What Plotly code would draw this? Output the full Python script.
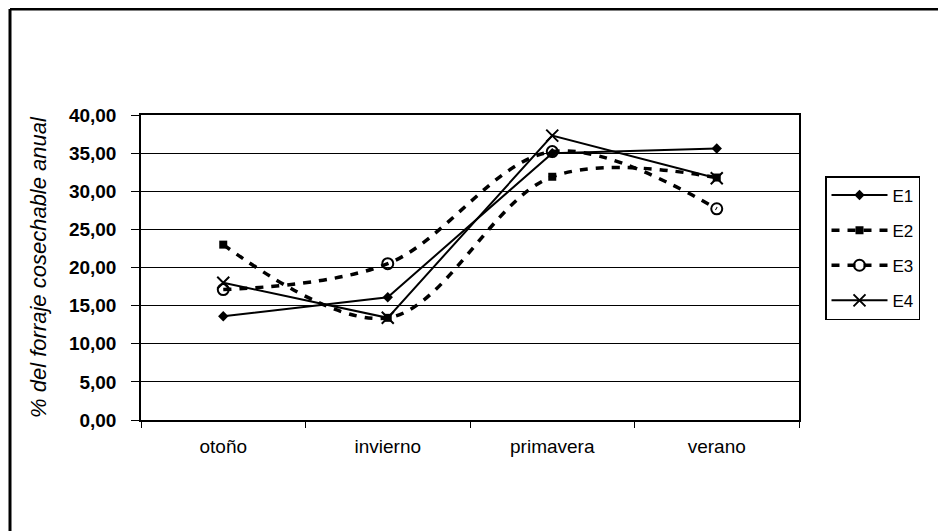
import plotly.graph_objects as go

categories = ["otoño", "invierno", "primavera", "verano"]
e1 = [13.6, 16.1, 35.0, 35.6]
e2 = [23.0, 13.4, 31.9, 31.8]
e3 = [17.1, 20.5, 35.2, 27.7]
e4 = [18.0, 13.4, 37.3, 31.7]
y_ticks = [0, 5, 10, 15, 20, 25, 30, 35, 40]

FONT = "Liberation Sans, Arial, sans-serif"

fig = go.Figure()
fig.add_trace(go.Scatter(x=categories, y=e1, name="E1", mode="lines+markers",
                         line=dict(color="black", width=2),
                         marker=dict(symbol="diamond", size=8, color="black"),
                         legendgroup="1"))
fig.add_trace(go.Scatter(x=categories, y=e2, name="E2", mode="lines+markers",
                         line=dict(color="black", width=3.5, dash="8px,8px", shape="spline"),
                         marker=dict(symbol="square", size=8, color="black"),
                         legendgroup="2"))
fig.add_trace(go.Scatter(x=categories, y=e3, name="E3", mode="lines+markers",
                         line=dict(color="black", width=3.5, dash="8px,8px", shape="spline"),
                         marker=dict(symbol="circle-open", size=11, color="black",
                                     line=dict(width=2, color="black")),
                         legendgroup="3"))
fig.add_trace(go.Scatter(x=categories, y=e4, name="E4", mode="lines+markers",
                         line=dict(color="black", width=2),
                         marker=dict(symbol="x-thin-open", size=12, color="black",
                                     line=dict(width=2, color="black")),
                         legendgroup="4"))

# page offset (browser body margin)
OFF = 8
W, H = 946 - OFF, 531 - OFF
L = 141 - OFF
T = 115 - OFF
R = W - (799 - OFF)
B = H - (420 - OFF)
pw = W - L - R
ph = H - T - B

def px_x(v):
    return (v - OFF - L) / pw

def px_y(v):
    return (H - B - (v - OFF)) / ph

fig.update_layout(
    width=W, height=H,
    margin=dict(l=L, r=R, t=T, b=B),
    paper_bgcolor="white", plot_bgcolor="white",
    separators=",.",
    font=dict(family=FONT, color="black"),
    showlegend=True,
    legend=dict(x=px_x(825), y=px_y(176), xanchor="left", yanchor="top",
                bordercolor="black", borderwidth=1.5, bgcolor="white",
                font=dict(size=17, family=FONT, color="black"),
                itemwidth=56, tracegroupgap=10, traceorder="grouped"),
    xaxis=dict(type="category", range=[-0.5, 3.5], showline=True, linecolor="black",
               linewidth=1.5, mirror=True, ticks="outside", tickson="boundaries",
               ticklen=6, tickcolor="black", showgrid=False,
               tickfont=dict(size=19, family=FONT, color="black"),
               ticklabelstandoff=8),
    yaxis=dict(range=[0, 40], tickvals=y_ticks, tickformat=".2f",
               showline=True, linecolor="black", linewidth=1.5, mirror=True,
               ticks="outside", ticklen=8, tickcolor="black",
               showgrid=True, gridcolor="black", gridwidth=1,
               tickfont=dict(size=19, family=FONT, color="black", weight="bold"),
               ticklabelstandoff=11,
               title=dict(text="% del forraje cosechable anual",
                          font=dict(size=22, family=FONT, color="black", style="italic"),
                          standoff=16),
               zeroline=False),
    shapes=[
        dict(type="line", xref="paper", yref="paper",
             x0=px_x(10), x1=px_x(960), y0=px_y(9), y1=px_y(9),
             line=dict(color="black", width=3)),
        dict(type="line", xref="paper", yref="paper",
             x0=px_x(10), x1=px_x(10), y0=px_y(9), y1=px_y(545),
             line=dict(color="black", width=3)),
    ],
)

fig.write_html("out.html")
